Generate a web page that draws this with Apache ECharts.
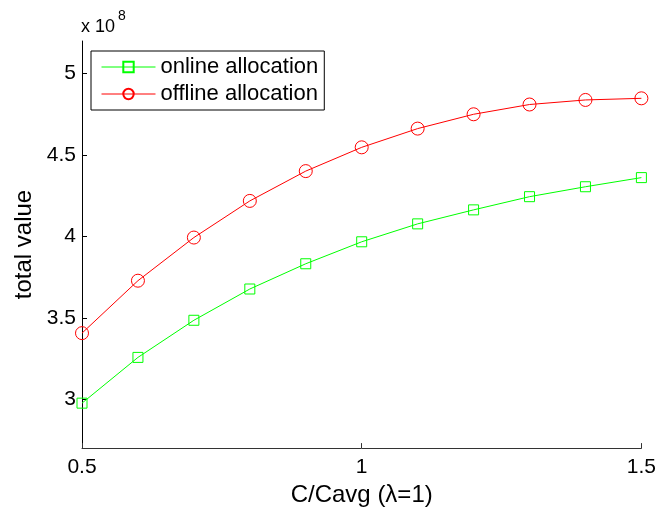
<!DOCTYPE html>
<html>
<head>
<meta charset="utf-8">
<script src="https://cdn.jsdelivr.net/npm/echarts@6/dist/echarts.min.js"></script>
<style>html,body{margin:0;padding:0;background:#fff;}#c{width:659px;height:512px;}</style>
</head>
<body>
<div id="c"></div>
<script>
var xValues = [0.5, 0.6, 0.7, 0.8, 0.9, 1.0, 1.1, 1.2, 1.3, 1.4, 1.5];
var onlineValues = [2.976, 3.257, 3.485, 3.677, 3.832, 3.967, 4.077, 4.163, 4.244, 4.305, 4.361];
var offlineValues = [3.406, 3.728, 3.993, 4.218, 4.401, 4.547, 4.662, 4.750, 4.810, 4.838, 4.848];
var yTickValues = [3, 3.5, 4, 4.5, 5];
var xTickValues = [0.5, 1, 1.5];

function pairs(xs, ys) { return xs.map(function (x, i) { return [x, ys[i]]; }); }

var FONT = 'Liberation Sans';
var chart = echarts.init(document.getElementById('c'), null, { renderer: 'canvas' });
chart.setOption({
  animation: false,
  backgroundColor: '#fff',
  grid: { left: 82, right: 15, top: 41, bottom: 62, containLabel: false },
  graphic: [
    { type: 'text', left: 81, top: 18, style: { text: 'x 10', font: '18px "Liberation Sans", sans-serif', fontFamily: FONT, fontSize: 18, fill: '#000' } },
    { type: 'text', left: 118, top: 9, style: { text: '8', font: '14px "Liberation Sans", sans-serif', fontFamily: FONT, fontSize: 14, fill: '#000' } }
  ],
  legend: {
    orient: 'vertical', left: 91, top: 51,
    borderColor: '#000', borderWidth: 1, backgroundColor: '#fff',
    padding: [5, 6, 5, 10], itemGap: 5, itemWidth: 54, itemHeight: 13,
    lineStyle: { width: 1 },
    textStyle: { fontFamily: FONT, fontSize: 22, color: '#000' },
    data: ['online allocation', 'offline allocation']
  },
  xAxis: {
    type: 'value', min: 0.5, max: 1.5, interval: 0.5,
    name: 'C/Cavg (λ=1)', nameLocation: 'middle', nameGap: 30,
    nameTextStyle: { fontFamily: FONT, fontSize: 24, color: '#000' },
    axisLine: { show: true, lineStyle: { color: '#333', width: 1 } },
    axisTick: { show: true, inside: true, length: 5, lineStyle: { color: '#333' }, customValues: xTickValues },
    axisLabel: { fontFamily: FONT, fontSize: 21, color: '#000', margin: 9, customValues: xTickValues,
      formatter: function (v) { return String(v); } },
    splitLine: { show: false }
  },
  yAxis: {
    type: 'value', min: 2.7, max: 5.2,
    name: 'total value', nameLocation: 'middle', nameGap: 44, nameRotate: 90,
    nameTextStyle: { fontFamily: FONT, fontSize: 24, color: '#000' },
    axisLine: { show: true, lineStyle: { color: '#000', width: 1 } },
    axisTick: { show: true, inside: true, length: 5, lineStyle: { color: '#000' }, customValues: yTickValues },
    axisLabel: { fontFamily: FONT, fontSize: 21, color: '#000', margin: 6, customValues: yTickValues,
      formatter: function (v) { return String(v); } },
    splitLine: { show: false }
  },
  series: [
    {
      name: 'online allocation', type: 'line', data: pairs(xValues, onlineValues),
      symbol: 'rect', symbolSize: 10, clip: false,
      lineStyle: { color: '#00ff00', width: 1 },
      itemStyle: { color: 'rgba(0,0,0,0)', borderColor: '#00ff00', borderWidth: 1 }
    },
    {
      name: 'offline allocation', type: 'line', data: pairs(xValues, offlineValues),
      symbol: 'circle', symbolSize: 13, clip: false,
      lineStyle: { color: '#ff0000', width: 1 },
      itemStyle: { color: 'rgba(0,0,0,0)', borderColor: '#ff0000', borderWidth: 1 }
    }
  ]
});
</script>
</body>
</html>
